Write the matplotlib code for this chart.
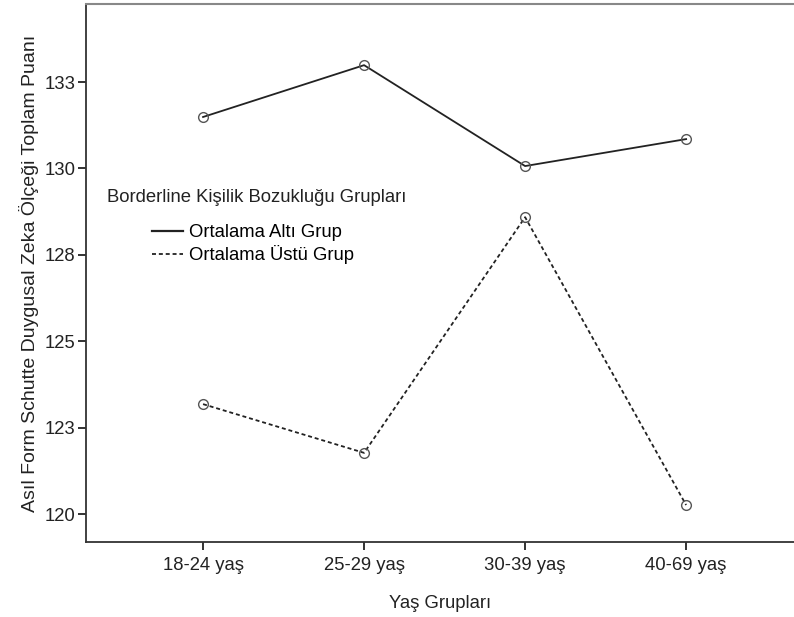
import matplotlib.pyplot as plt
from matplotlib.lines import Line2D

plt.rcParams["font.family"] = ["Liberation Sans", "DejaVu Sans"]

age_groups = ["18-24 yaş", "25-29 yaş", "30-39 yaş", "40-69 yaş"]
below_avg = [131.49, 132.99, 130.07, 130.85]
above_avg = [123.18, 121.77, 128.59, 120.26]
y_ticks = [120, 122.5, 125, 127.5, 130, 132.5]
y_tick_labels = ["120", "123", "125", "128", "130", "133"]

fs = 13.3

fig = plt.figure(figsize=(7.94, 6.17), dpi=100)
ax = fig.add_axes([86 / 794, 1 - 542 / 617, 1 - 86 / 794, (542 - 4) / 617])

x = range(len(age_groups))
ax.plot(x, below_avg, color="#222222", linewidth=1.3, linestyle="-",
        marker="o", markersize=7, markerfacecolor="none",
        markeredgecolor="#555555", markeredgewidth=1.0)
ax.plot(x, above_avg, color="#222222", linewidth=1.3, linestyle=(0, (2.2, 1.6)),
        marker="o", markersize=7, markerfacecolor="none",
        markeredgecolor="#555555", markeredgewidth=1.0)

ax.set_xlim(-0.727, 3.67)
ax.set_ylim(119.19, 134.76)
ax.set_xticks(list(x))
ax.set_xticklabels(age_groups)
ax.set_yticks(y_ticks)
ax.set_yticklabels(y_tick_labels)
ax.tick_params(axis="both", direction="out", length=6, width=1.3,
               color="#222222", labelsize=fs, labelcolor="#222222")
ax.tick_params(axis="x", pad=5)
ax.tick_params(axis="y", pad=1.5)

ax.spines["right"].set_visible(False)
ax.spines["top"].set_color("#888888")
ax.spines["top"].set_linewidth(1.5)
for side in ["left", "bottom"]:
    ax.spines[side].set_color("#333333")
    ax.spines[side].set_linewidth(1.3)

ax.set_xlabel("Yaş Grupları", fontsize=fs, color="#222222", labelpad=15)
ax.set_ylabel("Asıl Form Schutte Duygusal Zeka Ölçeği Toplam Puanı",
              fontsize=14, color="#222222", labelpad=4)

ax.text(21 / 708, (542 - 198) / 538, "Borderline Kişilik Bozukluğu Grupları",
        transform=ax.transAxes, fontsize=fs, color="#222222", va="center")
handles = [
    Line2D([], [], color="#222222", linewidth=1.6, linestyle="-"),
    Line2D([], [], color="#222222", linewidth=1.3, linestyle=(0, (2.2, 1.6))),
]
ax.legend(handles, ["Ortalama Altı Grup", "Ortalama Üstü Grup"],
          loc="upper left", bbox_to_anchor=(66 / 708, (542 - 224) / 538),
          frameon=False, fontsize=fs, handlelength=1.7, handletextpad=0.3,
          labelspacing=0.22, borderpad=0, borderaxespad=0)

fig.savefig("out.png", dpi=100)
